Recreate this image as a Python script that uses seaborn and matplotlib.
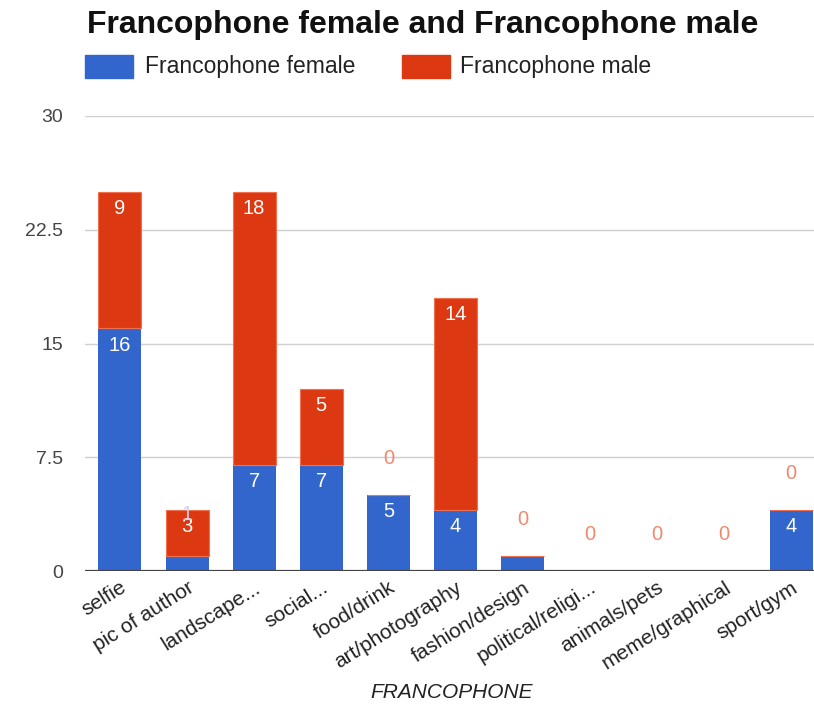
import matplotlib
matplotlib.use("Agg")
import matplotlib.pyplot as plt
import seaborn as sns
import pandas as pd
from matplotlib.patches import Rectangle

categories = ["selfie", "pic of author", "landscape...", "social...", "food/drink",
              "art/photography", "fashion/design", "political/religi...",
              "animals/pets", "meme/graphical", "sport/gym"]
female = [16, 1, 7, 7, 5, 4, 1, 0, 0, 0, 4]
male = [9, 3, 18, 5, 0, 14, 0, 0, 0, 0, 0]
yticks = [0, 7.5, 15, 22.5, 30]
ytick_labels = ["0", "7.5", "15", "22.5", "30"]
series_names = ["Francophone female", "Francophone male"]
title = "Francophone female and Francophone male"
xlabel = "FRANCOPHONE"

BLUE = "#3366cc"
RED = "#dc3912"
ZERO_RED = "#ee8a6e"

sns.set_theme(style="white")
plt.rcParams["font.family"] = ["Liberation Sans", "DejaVu Sans"]

df = pd.DataFrame({"cat": categories, "female": female, "male": male})

fig = plt.figure(figsize=(8.14, 7.08), dpi=100)
ax = fig.add_axes([85 / 814, 1 - 571 / 708, (814 - 85) / 814, (571 - 116) / 708])

for y in yticks[1:]:
    ax.axhline(y, color="#d0d0d0", lw=1, zorder=0)

sns.barplot(data=df, x="cat", y="female", color=BLUE, width=0.64, ax=ax,
            saturation=1, zorder=2, edgecolor="none")
sns.barplot(data=df, x="cat", y="male", color=RED, width=0.64, ax=ax,
            saturation=1, bottom=df["female"], zorder=2,
            edgecolor="#f07050", linewidth=0.8)

ax.axhline(0, color="#444444", lw=1.6, zorder=3)

LBL = 14.5
for i, (f, m) in enumerate(zip(female, male)):
    top = f + m
    if f > 0 and (f >= 2 or m > 0):
        if f >= 2:
            ax.annotate(str(f), (i, f), xytext=(0, -12), textcoords="offset points",
                        ha="center", va="center", color="white", fontsize=LBL, zorder=5)
        else:
            ax.annotate(str(f), (i, top), xytext=(0, -3), textcoords="offset points",
                        ha="center", va="center", color="#c8d6f5", fontsize=LBL, zorder=6)
    if m > 0:
        ax.annotate(str(m), (i, top), xytext=(0, -12), textcoords="offset points",
                    ha="center", va="center", color="white", fontsize=LBL, zorder=5)
    else:
        ax.annotate(str(m), (i, top), xytext=(0, 26.5), textcoords="offset points",
                    ha="center", va="center", color=ZERO_RED, fontsize=LBL, zorder=5)

ax.set_ylim(0, 30)
ax.set_xlim(-0.52, 10.34)
ax.set_yticks(yticks)
ax.set_yticklabels(ytick_labels, color="#444444", fontsize=14)
ax.tick_params(axis="y", length=0, pad=16)
ax.set_xticks(range(len(categories)))
ax.set_xticklabels(categories, rotation=32, ha="right", rotation_mode="anchor",
                   color="#222222", fontsize=15)
ax.tick_params(axis="x", length=0, pad=5)
ax.set_ylabel("")
ax.set_xlabel(xlabel, fontstyle="italic", color="#222222", fontsize=15)
ax.xaxis.set_label_coords((452 - 85) / (814 - 85), -(693 - 571) / (571 - 116))
ax.xaxis.label.set_va("center")
for s in ax.spines.values():
    s.set_visible(False)
ax.set_facecolor("white")

fig.text(87 / 814, 1 - 25 / 708, title, fontsize=23, fontweight="bold",
         ha="left", va="center", color="#111111")

# legend
fig.patches.append(Rectangle((85 / 814, 1 - 78 / 708), 48 / 814, 23 / 708,
                             transform=fig.transFigure, color=BLUE, figure=fig))
fig.text(145 / 814, 1 - 67 / 708, series_names[0], fontsize=16.5, ha="left",
         va="center", color="#222222")
fig.patches.append(Rectangle((402 / 814, 1 - 78 / 708), 48 / 814, 23 / 708,
                             transform=fig.transFigure, color=RED, figure=fig))
fig.text(460 / 814, 1 - 67 / 708, series_names[1], fontsize=16.5, ha="left",
         va="center", color="#222222")

fig.savefig("out.png", dpi=100, facecolor="white")
